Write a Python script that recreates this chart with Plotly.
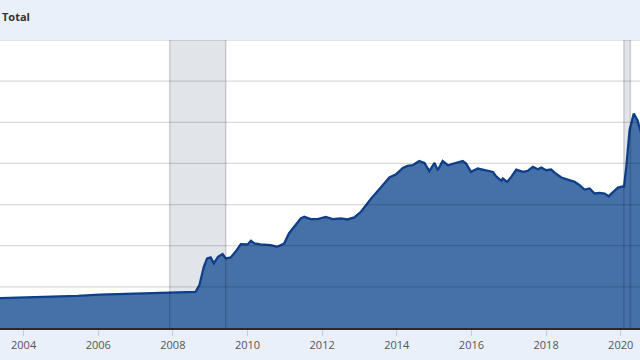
import plotly.graph_objects as go

# Series: "Total" (units of the hidden y axis, gridlines every 1000)
dates = [
    "2003-05-15", "2004-01-01", "2004-09-15", "2005-06-15", "2006-01-15", "2006-09-15",
    "2007-06-15", "2008-01-15", "2008-07-01", "2008-08-10", "2008-09-17", "2008-10-30",
    "2008-12-01", "2009-01-05", "2009-02-05", "2009-03-18", "2009-05-01", "2009-06-03",
    "2009-07-20", "2009-09-05", "2009-10-27", "2010-01-01", "2010-02-03", "2010-03-10",
    "2010-05-08", "2010-08-15", "2010-10-20", "2010-12-25", "2011-02-10", "2011-04-01",
    "2011-06-05", "2011-07-10", "2011-09-12", "2011-11-18", "2012-02-05", "2012-04-12",
    "2012-07-01", "2012-09-05", "2012-11-10", "2013-01-15", "2013-04-25", "2013-08-01",
    "2013-10-20", "2013-12-25", "2014-03-01", "2014-04-15", "2014-06-05", "2014-08-08",
    "2014-09-28", "2014-11-15", "2015-01-05", "2015-02-05", "2015-03-25", "2015-05-15",
    "2015-07-15", "2015-10-08", "2015-11-10", "2015-12-28", "2016-03-03", "2016-05-25",
    "2016-07-30", "2016-08-28", "2016-10-20", "2016-11-03", "2016-12-16", "2017-01-25",
    "2017-03-15", "2017-05-20", "2017-07-05", "2017-08-25", "2017-10-12", "2017-11-15",
    "2018-01-01", "2018-02-20", "2018-03-28", "2018-05-30", "2018-08-05", "2018-10-08",
    "2018-11-25", "2019-01-12", "2019-03-03", "2019-04-20", "2019-06-10", "2019-07-28",
    "2019-09-06", "2019-10-15", "2019-12-05", "2020-02-03", "2020-02-25", "2020-03-28",
    "2020-05-08", "2020-06-13", "2020-07-16",
]
values = [
    728, 742, 760, 780, 810, 830,
    855, 865, 875, 880, 1043, 1488,
    1692, 1715, 1570, 1732, 1796, 1692,
    1715, 1852, 2039, 2031, 2119, 2056,
    2031, 2014, 1973, 2056, 2298, 2459,
    2662, 2702, 2646, 2646, 2702, 2646,
    2662, 2638, 2687, 2824, 3148, 3430,
    3657, 3738, 3892, 3940, 3956, 4061,
    4013, 3811, 4013, 3835, 4061, 3956,
    3997, 4061, 3997, 3794, 3876, 3835,
    3794, 3689, 3576, 3633, 3551, 3673,
    3851, 3794, 3819, 3916, 3859, 3900,
    3835, 3851, 3769, 3657, 3608, 3551,
    3471, 3366, 3390, 3269, 3285, 3269,
    3204, 3285, 3414, 3447, 3916, 4806,
    5211, 5049, 4765,
]

recession_starts = ["2007-12-01", "2020-02-01"]
recession_ends = ["2009-06-01", "2020-04-05"]

y_gridlines = [0, 1000, 2000, 3000, 4000, 5000, 6000, 7000]
x_range = ["2003-05-15", "2020-07-08"]
title_text = "Total"

fig = go.Figure()
fig.add_trace(go.Scatter(
    x=dates, y=values, mode="lines",
    line=dict(color="#103f8a", width=2.3),
    fill="tozeroy", fillcolor="#4571a8",
    hoverinfo="skip", showlegend=False,
))

shapes = []
for s, e in zip(recession_starts, recession_ends):
    shapes.append(dict(type="rect", xref="x", yref="paper", x0=s, x1=e, y0=0, y1=1,
                       fillcolor="#e1e5ea", line=dict(width=0), layer="below"))
    for xv in (s, e):
        shapes.append(dict(type="line", xref="x", yref="paper", x0=xv, x1=xv, y0=0, y1=1,
                           line=dict(color="rgba(0,0,0,0.16)", width=1.5), layer="above"))
for gv in y_gridlines[1:]:
    shapes.append(dict(type="line", xref="paper", yref="y", x0=0, x1=1, y0=gv, y1=gv,
                       line=dict(color="rgba(0,0,0,0.15)", width=1.3), layer="above"))

fig.update_layout(
    width=640, height=360,
    margin=dict(l=0, r=0, t=40, b=32),
    paper_bgcolor="#e9f0f9",
    plot_bgcolor="#ffffff",
    font=dict(family="Open Sans, sans-serif", color="#555555", size=11),
    shapes=shapes,
    showlegend=False,
    annotations=[dict(text="<b>" + title_text + "</b>", xref="paper", yref="paper",
                      x=0, y=1, xanchor="left", yanchor="middle", yshift=24,
                      showarrow=False, font=dict(size=11, color="#333333",
                                                 family="Open Sans, sans-serif"))],
    xaxis=dict(
        type="date", range=x_range,
        tick0="2004-01-01", dtick="M24", tickformat="%Y",
        ticks="outside", ticklen=6, tickcolor="#cccccc", tickwidth=1,
        showgrid=False, zeroline=False,
        showline=True, linecolor="#2a2a2a", linewidth=2,
        tickfont=dict(size=11, color="#555555"),
        layer="above traces",
    ),
    yaxis=dict(
        range=[0, 7000], showgrid=False, zeroline=False,
        showticklabels=False, ticks="",
    ),
)

fig.write_html("out.html")
